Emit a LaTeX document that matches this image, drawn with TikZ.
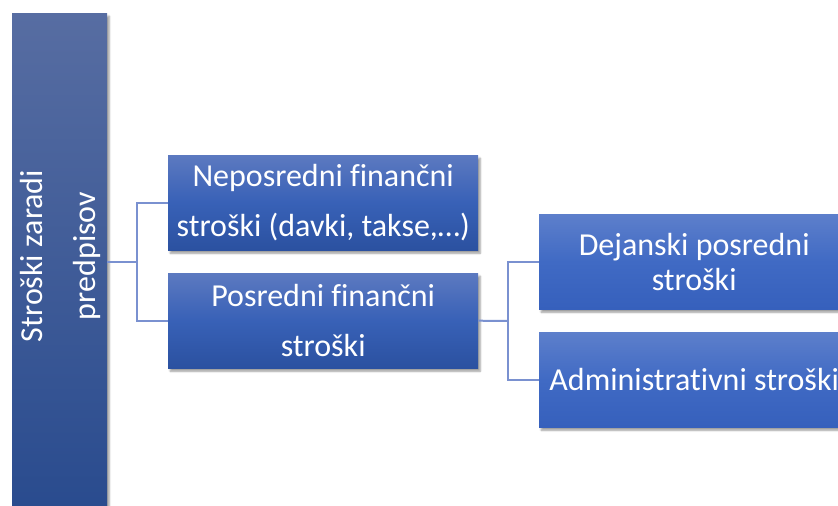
\documentclass[tikz,border=0pt]{standalone}
\usepackage{fontspec}
\setmainfont[Ligatures=NoCommon]{Carlito}
\usetikzlibrary{shadows.blur}
\definecolor{conn}{HTML}{7A91D0}
\tikzset{
  box/.style={draw=none, anchor=north west, inner sep=0pt,
    blur shadow={shadow xshift=2pt, shadow yshift=-3pt, shadow blur steps=6, shadow opacity=40},
    text=white, align=center, font=\fontsize{32}{50}\selectfont},
  midbox/.style={box, top color={rgb,255:red,92;green,121;blue,192}, bottom color={rgb,255:red,43;green,81;blue,160}, middle color={rgb,255:red,56;green,97;blue,183}},
  rightbox/.style={box, top color={rgb,255:red,93;green,127;blue,203}, bottom color={rgb,255:red,54;green,96;blue,188}, middle color={rgb,255:red,64;green,106;blue,196}, font=\fontsize{32}{35}\selectfont},
  leftbox/.style={box, top color={rgb,255:red,87;green,109;blue,162}, bottom color={rgb,255:red,41;green,75;blue,142}},
  link/.style={draw=conn, line width=2pt}
}
\begin{document}
\begin{tikzpicture}[x=1pt,y=-1pt]
\useasboundingbox (0,0) rectangle (838,506);
\node[leftbox, minimum width=95pt, minimum height=500pt] (root) at (12,13) {};
\node[rotate=90, text=white, align=center, font=\fontsize{32}{53}\selectfont] (roottext) at (60,256) {Stroški zaradi\\predpisov};
\node[midbox, minimum width=310pt, minimum height=95pt] (a) at (168,155) {Neposredni finančni\\stroški (davki, takse,…)};
\node[midbox, minimum width=310pt, minimum height=95pt] (b) at (168,273) {Posredni finančni\\stroški};
\node[rightbox, minimum width=310pt, minimum height=95pt] (c) at (539,214) {Dejanski posredni\\stroški};
\node[rightbox, minimum width=310pt, minimum height=95pt] (d) at (539,332) {Administrativni stroški};
\coordinate (j1) at (137,262);
\coordinate (j2) at (508,321);
\draw[link] (root.east |- j1) -- (j1);
\draw[link] (a.west) -| (j1) |- (b.west);
\draw[link] (b.east) -- (j2);
\draw[link] (c.west) -| (j2) |- (d.west);
\end{tikzpicture}
\end{document}
